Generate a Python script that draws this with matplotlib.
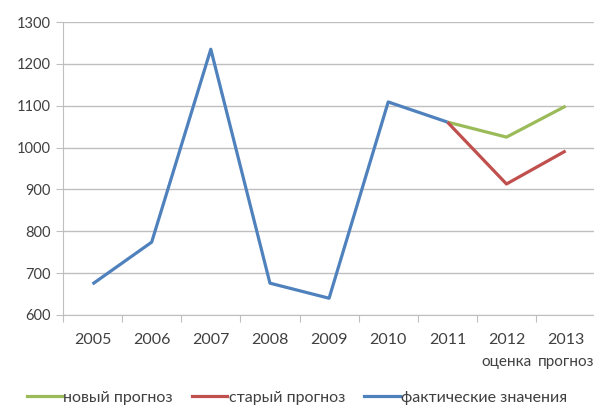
import matplotlib
matplotlib.use("Agg")
import matplotlib.pyplot as plt
from matplotlib.lines import Line2D

plt.rcParams['font.family'] = ['Lato', 'DejaVu Sans']

years = ['2005', '2006', '2007', '2008', '2009', '2010', '2011', '2012', '2013']
notes = ['', '', '', '', '', '', '', 'оценка', 'прогноз']
fact = [674, 774, 1235, 676, 640, 1109, 1061]
new_fc = [1061, 1025, 1099]
old_fc = [1061, 913, 992]

c_new = '#9BBB59'
c_old = '#C0504D'
c_fact = '#4F81BD'
grid_c = '#BFBFBF'
txt_c = '#404040'

fig = plt.figure(figsize=(5.94, 4.08), dpi=100)
ax = fig.add_axes([0.106, 0.228, 0.896, 0.718])

x = list(range(len(years)))
ax.plot(x[6:], new_fc, color=c_new, lw=2.3, solid_capstyle='butt')
ax.plot(x[6:], old_fc, color=c_old, lw=2.3, solid_capstyle='butt')
ax.plot(x[:7], fact, color=c_fact, lw=2.3, solid_capstyle='butt')

ax.set_xlim(-0.5, 8.5)
ax.set_ylim(600, 1300)
ax.set_yticks(range(600, 1301, 100))
ax.yaxis.grid(True, color=grid_c, lw=1)
ax.set_axisbelow(True)

for s in ['top', 'right']:
    ax.spines[s].set_visible(False)
ax.spines['left'].set_color(grid_c)
ax.spines['bottom'].set_color(grid_c)
ax.tick_params(axis='y', length=5, color=grid_c, labelsize=10.5, labelcolor=txt_c, pad=4)

# ticks sit between categories, labels at the centres
ax.set_xticks([i - 0.5 for i in range(len(years) + 1)])
ax.set_xticklabels([])
ax.tick_params(axis='x', length=5, color=grid_c)
for i, (y, n) in enumerate(zip(years, notes)):
    ax.text(i, -0.085, y, transform=ax.get_xaxis_transform(), ha='center', va='center',
            fontsize=11.5, color=txt_c)
    if n:
        ax.text(i, -0.16, n, transform=ax.get_xaxis_transform(), ha='center', va='center',
                fontsize=11, color=txt_c)

handles = [Line2D([], [], color=c_new, lw=2.3),
           Line2D([], [], color=c_old, lw=2.3),
           Line2D([], [], color=c_fact, lw=2.3)]
fig.legend(handles, ['новый прогноз', 'старый прогноз', 'фактические значения'],
           loc='center', bbox_to_anchor=(0.5, 0.025), ncol=3, frameon=False,
           fontsize=11.5, handlelength=2.2, handletextpad=0.1, columnspacing=1.2,
           labelcolor=txt_c)

fig.savefig('out.png', dpi=100)
